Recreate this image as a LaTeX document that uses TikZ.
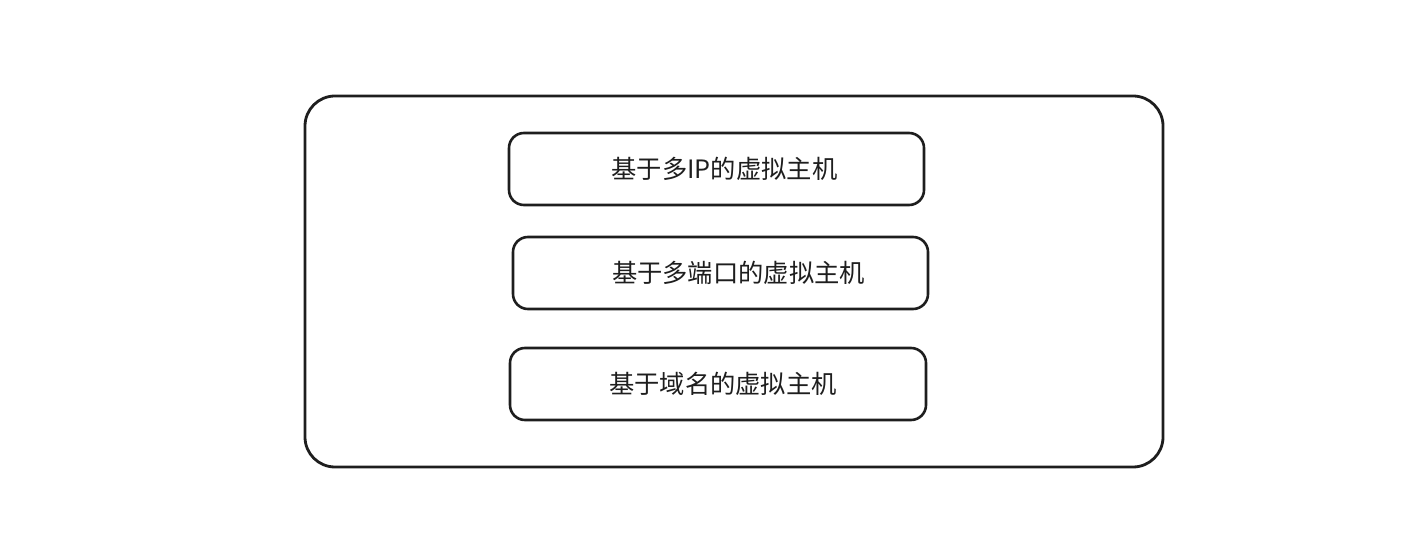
\documentclass[tikz,border=0pt]{standalone}
\usepackage{fontspec}
\newfontfamily\cjk{Noto Sans CJK SC}
\definecolor{ink}{HTML}{1E1E1E}
\begin{document}
\begin{tikzpicture}[x=1pt,y=-1pt,
  frame/.style={draw=ink,line width=2.8pt,rounded corners=30pt},
  itembox/.style={draw=ink,line width=2.6pt,rounded corners=15pt},
  label/.style={font=\cjk\fontsize{25.3}{30}\selectfont,text=ink,inner sep=0pt}]
  \useasboundingbox (0,0) rectangle (1418,534);
  % outer container
  \draw[frame] (305,96) rectangle (1163,467);
  % three items
  \draw[itembox] (509,133) rectangle (924,205);
  \draw[itembox] (513,237) rectangle (928,309);
  \draw[itembox] (510,348) rectangle (926,420);
  \node[label] (t1) at (724.5,169) {基于多IP的虚拟主机};
  \node[label] (t2) at (738.5,273) {基于多端口的虚拟主机};
  \node[label] (t3) at (723,384) {基于域名的虚拟主机};
\end{tikzpicture}
\end{document}
